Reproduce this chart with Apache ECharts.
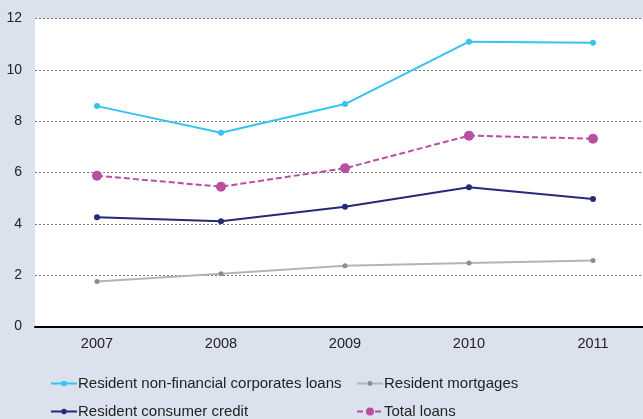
<!DOCTYPE html>
<html><head><meta charset="utf-8">
<script src="https://cdn.jsdelivr.net/npm/echarts@6/dist/echarts.min.js"></script>
<style>html,body{margin:0;padding:0;background:#dbe2ee;overflow:hidden}#c{width:655px;height:419px}</style>
</head><body><div id="c"></div>
<script>
const categories = ['2007','2008','2009','2010','2011'];
const nonFinancialCorporates = [8.59, 7.55, 8.67, 11.10, 11.06];
const mortgages = [1.76, 2.06, 2.37, 2.48, 2.58];
const consumerCredit = [4.26, 4.10, 4.67, 5.43, 4.97];
const totalLoans = [5.88, 5.45, 6.17, 7.44, 7.32];
const yTicks = [0, 2, 4, 6, 8, 10, 12];

const names = ['Resident non-financial corporates loans','Resident mortgages','Resident consumer credit','Total loans'];
const font = 'Liberation Sans, Arial, sans-serif';
function leg(name, left, top, ih){
  return {data:[name], left:left, top:top, itemWidth:26, itemHeight:ih, itemGap:0,
    textStyle:{fontFamily:font, fontSize:15, color:'#222', padding:[0,0,0,-4]}, padding:0};
}
const chart = echarts.init(document.getElementById('c'));
chart.setOption({
  backgroundColor:'#dbe2ee',
  animation:false,
  grid:{left:35, top:18.6, right:0, bottom:92.4, show:true, backgroundColor:'#ffffff', borderWidth:0},
  legend:[
    leg(names[0], 50, 376, 7),
    leg(names[1], 356, 376, 6),
    leg(names[2], 50, 404, 7),
    leg(names[3], 356, 404, 10)
  ],
  xAxis:{type:'category', data:categories, boundaryGap:true,
    axisLine:{lineStyle:{color:'#000', width:2}}, axisTick:{show:false},
    axisLabel:{fontFamily:font, fontSize:14.5, color:'#222', margin:10}},
  yAxis:{type:'value', min:0, max:12, interval:2,
    axisLine:{show:false}, axisTick:{show:false},
    axisLabel:{fontFamily:font, fontSize:14, color:'#222', margin:13,
      formatter:v=>yTicks.includes(v)?String(v):''},
    splitLine:{lineStyle:{color:'#7a7a7a', type:[2,2], width:1}}},
  series:[
    {name:names[0], type:'line', data:nonFinancialCorporates, symbol:'circle', symbolSize:6,
      itemStyle:{color:'#35c3ef'}, lineStyle:{color:'#35c3ef', width:2}},
    {name:names[1], type:'line', data:mortgages, symbol:'circle', symbolSize:5,
      itemStyle:{color:'#8c8c8c'}, lineStyle:{color:'#b4b4b4', width:2}},
    {name:names[2], type:'line', data:consumerCredit, symbol:'circle', symbolSize:6,
      itemStyle:{color:'#262a78'}, lineStyle:{color:'#262a78', width:2}},
    {name:names[3], type:'line', data:totalLoans, symbol:'circle', symbolSize:10,
      itemStyle:{color:'#b84fa1'}, lineStyle:{color:'#b84fa1', width:2, type:[6,3]}}
  ]
});
</script></body></html>
